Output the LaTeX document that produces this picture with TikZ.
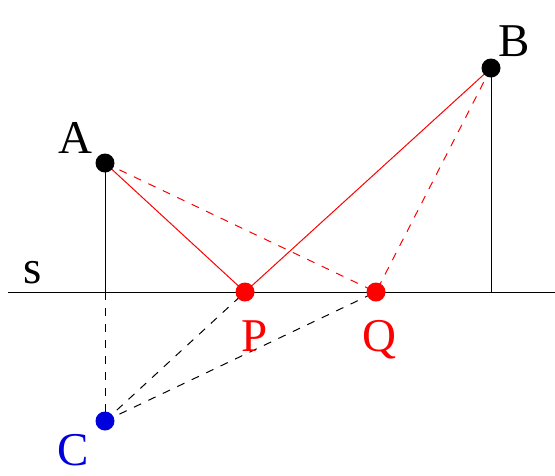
\documentclass[tikz,border=0pt]{standalone}
\usepackage{fontspec}
\setmainfont{Liberation Serif}
\definecolor{ptred}{RGB}{255,0,0}
\definecolor{ptblue}{RGB}{0,0,220}
\begin{document}
\begin{tikzpicture}[x=1pt,y=-1pt,line width=1pt,
	dot/.style={circle,fill,inner sep=0pt,minimum size=19pt},
	lbl/.style={inner sep=0pt,anchor=base,font=\fontsize{47}{56}\selectfont},
	gap/.style={dash pattern=on 8pt off 8pt}]
	
	\useasboundingbox (0,0) rectangle (555,475);
	
	\coordinate (A) at (105,163);
	\coordinate (B) at (491,68);
	\coordinate (P) at (245,292);
	\coordinate (Q) at (376,292);
	\coordinate (C) at (105,421);
	\coordinate (A0) at (105,292);
	\coordinate (B0) at (491,292);
	\coordinate (sL) at (8,292);
	\coordinate (sR) at (555,292);
	
	% line s and perpendiculars
	\draw (sL) -- (sR);
	\draw (A) -- (A0);
	\draw (B) -- (B0);
	\draw[gap] (A0) -- (C);
	\draw[gap] (C) -- (P);
	\draw[gap] (C) -- (Q);
	
	% paths via P and Q
	\draw[ptred] (A) -- (P) -- (B);
	\draw[ptred,gap] (A) -- (Q) -- (B);
	
	\node[dot] (dA) at (A) {};
	\node[dot] (dB) at (B) {};
	\node[dot,ptred] (dP) at (P) {};
	\node[dot,ptred] (dQ) at (Q) {};
	\node[dot,ptblue] (dC) at (C) {};
	
	\node[lbl] (lA) at (75,153) {A};
	\node[lbl] (lB) at (514,56) {B};
	\node[lbl,ptred] (lP) at (255,351) {P};
	\node[lbl,ptred] (lQ) at (379,351) {Q};
	\node[lbl,ptblue] (lC) at (73,465) {C};
	\node[lbl] (ls) at (33,283) {s};
	
\end{tikzpicture}
\end{document}
